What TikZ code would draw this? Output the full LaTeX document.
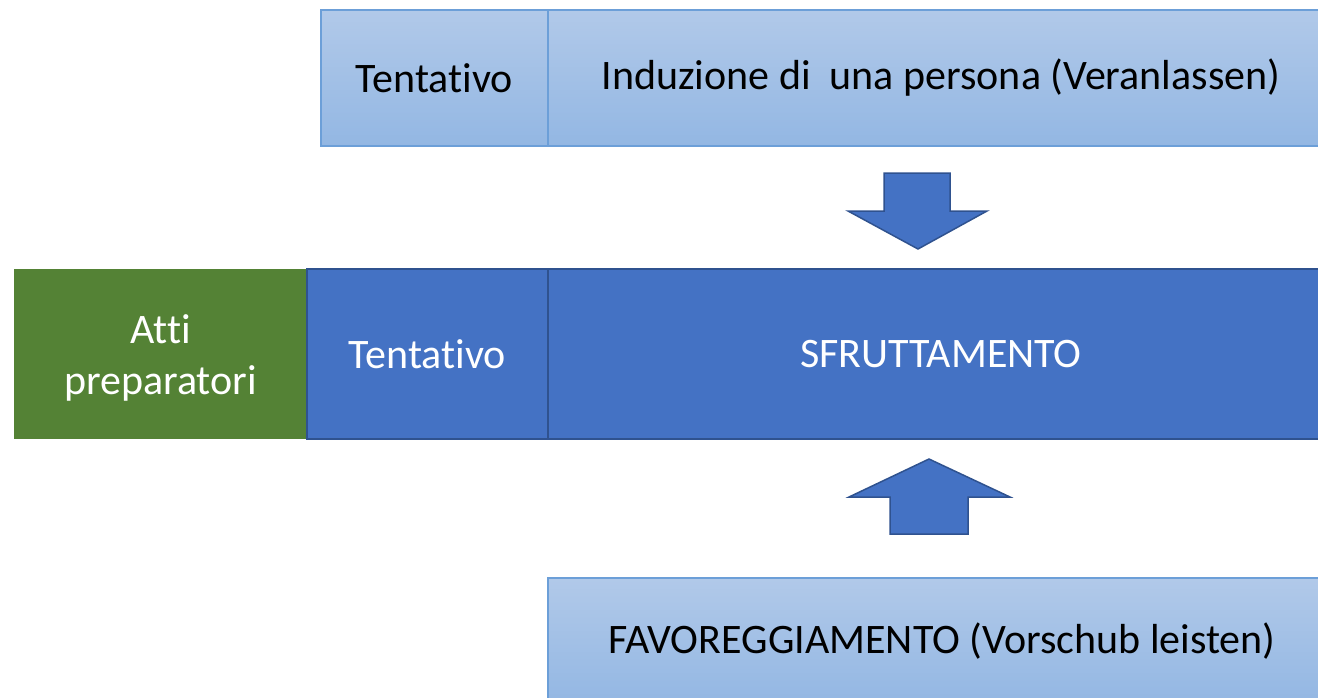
\documentclass[tikz,border=0pt]{standalone}
\usepackage{fontspec}
\setmainfont{Carlito}[Ligatures=NoCommon]
\definecolor{lbTop}{HTML}{B1C9E9}
\definecolor{lbBot}{HTML}{93B7E3}
\definecolor{lbLine}{HTML}{6C9FD8}
\definecolor{mBlue}{HTML}{4472C4}
\definecolor{mLine}{HTML}{2F528F}
\definecolor{mGreen}{HTML}{548235}
\tikzset{
  x=1pt, y=-1pt,
  lightbox/.style={draw=lbLine, line width=1.3pt, top color=lbTop, bottom color=lbBot,
    rectangle, inner sep=0pt, font=\fontsize{42}{50}\selectfont, text=black},
  bluebox/.style={draw=mLine, line width=1.5pt, fill=mBlue, rectangle, inner sep=0pt,
    font=\fontsize{42}{50}\selectfont, text=white},
  greenbox/.style={draw=none, fill=mGreen, rectangle, inner sep=0pt,
    font=\fontsize{42}{51}\selectfont, text=white, align=center},
  blockarrow/.style={draw=mLine, line width=1.5pt, fill=mBlue, line join=miter}
}
\begin{document}
\begin{tikzpicture}
\useasboundingbox (0,0) rectangle (1318,697);
\clip (0,0) rectangle (1318,697);
% top row
\node[lightbox, minimum width=227pt, minimum height=136pt] (tt) at (434.5,78) {Tentativo};
\node[lightbox, minimum width=786pt, minimum height=136pt] (ind) at (941,78) {Induzione di \ una persona (Veranlassen)};
% middle row
\node[greenbox, minimum width=293pt, minimum height=170pt] (atti) at (160.5,354) {};
\node[font=\fontsize{42}{51}\selectfont, text=white, align=center, inner sep=0pt] (attit) at (160.5,358) {Atti\\preparatori};
\node[bluebox, minimum width=241pt, minimum height=170pt] (tm) at (427.5,354) {Tentativo};
\node[bluebox, minimum width=786pt, minimum height=170pt] (sf) at (941,354) {SFRUTTAMENTO};
% bottom
\node[lightbox, minimum width=788pt, minimum height=126pt] (fav) at (942,641) {FAVOREGGIAMENTO (Vorschub leisten)};
% block arrows
\draw[blockarrow] (884,173) -- (950,173) -- (950,211) -- (987,211) -- (918,249) -- (848,211) -- (884,211) -- cycle;
\draw[blockarrow] (890,534) -- (968,534) -- (968,497) -- (1010,497) -- (929,459) -- (849,497) -- (890,497) -- cycle;
\end{tikzpicture}
\end{document}
